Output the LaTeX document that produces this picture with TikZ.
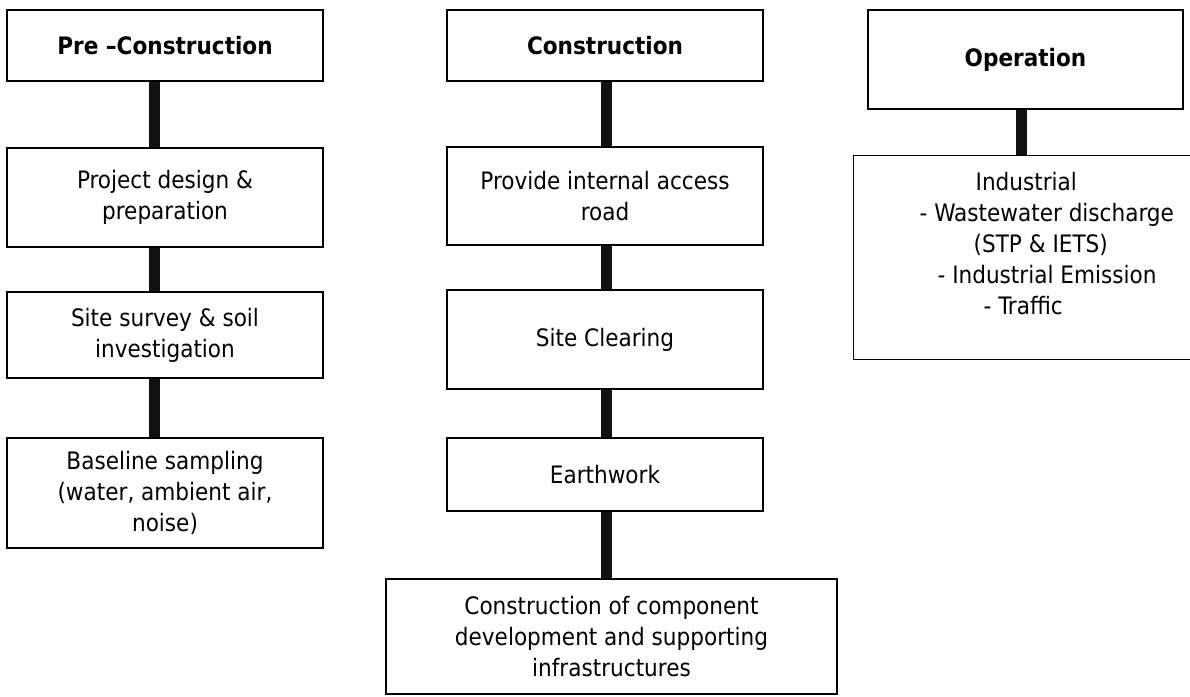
\documentclass[tikz,border=0pt]{standalone}
\usepackage{fontspec}
\setmainfont{DejaVu Sans Condensed}
\usepackage{tikz}

\begin{document}
\begin{tikzpicture}[x=1pt,y=-1pt,
  stage/.style={draw,rectangle,line width=1.3pt,align=center,inner sep=0pt,font=\fontsize{24}{31}\selectfont},
  link/.style={line width=11pt,draw=black!93}]
\useasboundingbox (0,0) rectangle (1190,696);
\coordinate (colA) at (154,0);
\coordinate (colB) at (606,0);
\coordinate (colC) at (1021,0);
% pre-construction
\node[stage,minimum width=316,minimum height=71] (pre) at (165,45.5) {\textbf{Pre –Construction}};
\node[stage,minimum width=316,minimum height=99] (design) at (165,197.5) {Project design \&\\preparation};
\node[stage,minimum width=316,minimum height=86] (survey) at (165,335) {Site survey \& soil\\investigation};
\node[stage,minimum width=316,minimum height=110] (base) at (165,493) {Baseline sampling\\(water, ambient air,\\noise)};
% construction
\node[stage,minimum width=316,minimum height=71] (cons) at (605,45.5) {\textbf{Construction}};
\node[stage,minimum width=316,minimum height=98] (road) at (605,196) {Provide internal access\\road};
\node[stage,minimum width=316,minimum height=99] (clear) at (605,339.5) {Site Clearing};
\node[stage,minimum width=316,minimum height=73] (earth) at (605,474.5) {Earthwork};
\node[stage,minimum width=451,minimum height=115] (comp) at (611.5,636.5) {Construction of component\\development and supporting\\infrastructures};
% operation
\node[stage,minimum width=315,minimum height=99] (oper) at (1025.5,59.5) {\textbf{Operation}};
\node[stage,minimum width=342,minimum height=204,anchor=north west] (indus) at (853,155) {};
\node[stage,draw=none,align=left,anchor=north west] (indtext) at (919,172) {\hspace*{56pt}Industrial\\- Wastewater discharge\\\hspace*{54pt}(STP \& IETS)\\\hspace*{18pt}- Industrial Emission\\\hspace*{64pt}- Traffic};
\draw[link] (pre.south -| colA) -- (design.north -| colA);
\draw[link] (design.south -| colA) -- (survey.north -| colA);
\draw[link] (survey.south -| colA) -- (base.north -| colA);
\draw[link] (cons.south -| colB) -- (road.north -| colB);
\draw[link] (road.south -| colB) -- (clear.north -| colB);
\draw[link] (clear.south -| colB) -- (earth.north -| colB);
\draw[link] (earth.south -| colB) -- (comp.north -| colB);
\draw[link] (oper.south -| colC) -- (indus.north -| colC);
\end{tikzpicture}
\end{document}
